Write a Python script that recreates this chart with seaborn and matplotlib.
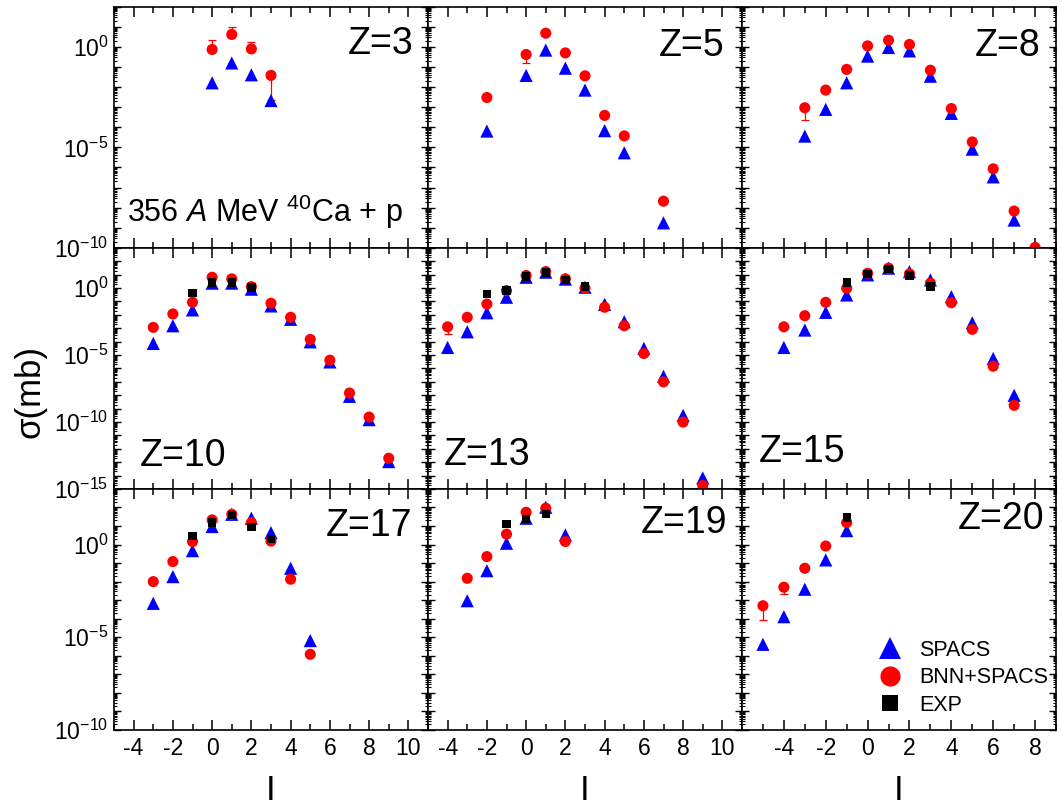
import numpy as np
import pandas as pd
import seaborn as sns
import matplotlib.pyplot as plt
from matplotlib.lines import Line2D
from matplotlib.ticker import FixedLocator, LogLocator, FuncFormatter, MultipleLocator, NullFormatter

# --- data: log10(sigma / mb), per fragment charge Z ---
z3_i = [0, 1, 2, 3]
z3_spacs = [-1.79, -0.80, -1.39, -2.67]
z3_bnn = [-0.13, 0.62, -0.10, -1.42]

z5_i = [-2, 0, 1, 2, 3, 4, 5, 7]
z5_spacs = [-4.19, -1.42, -0.16, -1.06, -2.15, -4.17, -5.27, -8.76]
z5_bnn = [-2.52, -0.38, 0.68, -0.30, -1.44, -3.41, -4.43, -7.68]

z8_i_spacs = [-3, -2, -1, 0, 1, 2, 3, 4, 5, 6, 7]
z8_spacs = [-4.44, -3.11, -1.79, -0.46, -0.03, -0.20, -1.46, -3.31, -5.09, -6.47, -8.62]
z8_i_bnn = [-3, -2, -1, 0, 1, 2, 3, 4, 5, 6, 7, 8]
z8_bnn = [-3.03, -2.15, -1.12, 0.05, 0.33, 0.12, -1.16, -3.07, -4.73, -6.07, -8.17, -9.98]

z10_i = [-3, -2, -1, 0, 1, 2, 3, 4, 5, 6, 7, 8, 9]
z10_spacs = [-4.14, -2.82, -1.64, 0.36, 0.36, -0.09, -1.34, -2.34, -4.02, -5.52, -8.09, -9.83, -12.96]
z10_bnn = [-2.94, -1.94, -1.07, 0.80, 0.68, 0.10, -1.14, -2.19, -3.84, -5.39, -7.84, -9.64, -12.71]
z10_i_exp = [-1, 0, 1, 2]
z10_exp = [-0.35, 0.40, 0.40, 0.03]

z13_i = [-4, -3, -2, -1, 0, 1, 2, 3, 4, 5, 6, 7, 8, 9]
z13_spacs = [-4.44, -3.27, -1.85, -0.69, 0.80, 1.18, 0.66, 0.06, -1.22, -2.52, -4.51, -6.59, -9.51, -14.18]
z13_bnn = [-2.90, -2.19, -1.20, -0.20, 0.93, 1.22, 0.68, -0.02, -1.44, -2.82, -4.89, -7.01, -10.01, -14.75]
z13_i_exp = [-2, -1, 0, 1, 2, 3]
z13_exp = [-0.45, -0.20, 0.85, 1.15, 0.60, 0.10]

z15_i = [-4, -3, -2, -1, 0, 1, 2, 3, 4, 5, 6, 7]
z15_spacs = [-4.44, -3.14, -1.82, -0.52, 0.98, 1.48, 1.22, 0.60, -0.65, -2.60, -5.26, -8.01]
z15_bnn = [-2.90, -2.07, -1.07, -0.02, 1.10, 1.48, 1.05, 0.36, -1.10, -3.09, -5.84, -8.76]
z15_i_exp = [-1, 0, 1, 2, 3]
z15_exp = [0.40, 1.05, 1.43, 0.93, 0.10]

z17_i = [-3, -2, -1, 0, 1, 2, 3, 4, 5]
z17_spacs = [-3.17, -1.73, -0.33, 0.97, 1.63, 1.42, 0.64, -1.28, -5.18]
z17_bnn = [-2.00, -0.92, 0.16, 1.33, 1.63, 1.18, 0.19, -1.87, -5.92]
z17_i_exp = [-1, 0, 1, 2, 3]
z17_exp = [0.46, 1.18, 1.60, 0.93, 0.29]

z19_i = [-3, -2, -1, 0, 1, 2]
z19_spacs = [-3.03, -1.41, 0.07, 1.42, 2.01, 0.52]
z19_bnn = [-1.82, -0.65, 0.56, 1.74, 1.96, 0.16]
z19_i_exp = [-1, 0, 1]
z19_exp = [1.09, 1.36, 1.63]

z20_i = [-5, -4, -3, -2, -1]
z20_spacs = [-5.38, -3.89, -2.41, -0.83, 0.75]
z20_bnn = [-3.30, -2.30, -1.28, -0.08, 1.18]
z20_i_exp = [-1]
z20_exp = [1.45]

# visible BNN+SPACS error bars (log10 of lower / upper ends)
err_z = [3, 3, 3, 3, 5, 8, 13, 20, 20]
err_i = [0, 1, 2, 3, 0, -3, -4, -5, -4]
err_lo = [-0.13, 0.62, -0.10, -2.65, -0.78, -3.65, -3.44, -4.07, -2.66]
err_hi = [0.33, 0.97, 0.22, -1.42, -0.38, -3.03, -2.90, -3.30, -2.30]

# --- build long table ---
rows = []
def add(z, model, xs, ys):
    for x, y in zip(xs, ys):
        rows.append({'Z': z, 'I': x, 'model': model, 'sigma': 10.0 ** y})

add(3, 'SPACS', z3_i, z3_spacs); add(3, 'BNN+SPACS', z3_i, z3_bnn)
add(5, 'SPACS', z5_i, z5_spacs); add(5, 'BNN+SPACS', z5_i, z5_bnn)
add(8, 'SPACS', z8_i_spacs, z8_spacs); add(8, 'BNN+SPACS', z8_i_bnn, z8_bnn)
add(10, 'SPACS', z10_i, z10_spacs); add(10, 'BNN+SPACS', z10_i, z10_bnn); add(10, 'EXP', z10_i_exp, z10_exp)
add(13, 'SPACS', z13_i, z13_spacs); add(13, 'BNN+SPACS', z13_i, z13_bnn); add(13, 'EXP', z13_i_exp, z13_exp)
add(15, 'SPACS', z15_i, z15_spacs); add(15, 'BNN+SPACS', z15_i, z15_bnn); add(15, 'EXP', z15_i_exp, z15_exp)
add(17, 'SPACS', z17_i, z17_spacs); add(17, 'BNN+SPACS', z17_i, z17_bnn); add(17, 'EXP', z17_i_exp, z17_exp)
add(19, 'SPACS', z19_i, z19_spacs); add(19, 'BNN+SPACS', z19_i, z19_bnn); add(19, 'EXP', z19_i_exp, z19_exp)
add(20, 'SPACS', z20_i, z20_spacs); add(20, 'BNN+SPACS', z20_i, z20_bnn); add(20, 'EXP', z20_i_exp, z20_exp)
df = pd.DataFrame(rows)

err_df = pd.DataFrame({'Z': err_z, 'I': err_i,
                       'lo': np.power(10.0, err_lo), 'hi': np.power(10.0, err_hi)})

# --- style ---
sns.set_theme(style='ticks')
plt.rcParams.update({
    'font.family': ['Liberation Sans', 'DejaVu Sans'],
    'mathtext.fontset': 'custom',
    'mathtext.rm': 'Liberation Sans',
    'mathtext.it': 'Liberation Sans:italic',
    'mathtext.default': 'regular',
    'axes.unicode_minus': False,
    'axes.linewidth': 1.2,
    'text.color': 'black',
    'axes.labelcolor': 'black',
    'axes.edgecolor': 'black',
    'xtick.color': 'black',
    'ytick.color': 'black',
    'figure.facecolor': 'white',
    'axes.facecolor': 'white',
})

styles = {  # model -> marker, colour, size (pt^2)
    'SPACS': ('^', '#0000FF', 90),
    'BNN+SPACS': ('o', '#FF0000', 64),
    'EXP': ('s', '#000000', 36),
}

z_order = [3, 5, 8, 10, 13, 15, 17, 19, 20]
row_decades = [(-10, 2), (-15, 3), (-10, 3)]   # log10 y-limits per row
col_xlim = [(-5, 11), (-5, 11), (-6, 9)]
# Z label position (axes fraction) and alignment
zlab = {
    3: (0.955, 0.92, 'right', 'top'), 5: (0.945, 0.91, 'right', 'top'), 8: (0.95, 0.91, 'right', 'top'),
    10: (0.083, 0.095, 'left', 'baseline'), 13: (0.049, 0.10, 'left', 'baseline'),
    15: (0.052, 0.11, 'left', 'baseline'),
    17: (0.95, 0.92, 'right', 'top'), 19: (0.953, 0.935, 'right', 'top'), 20: (0.962, 0.95, 'right', 'top'),
}

def decade_label(v, pos):
    e = int(round(np.log10(v)))
    return f'$10^{{{e}}}$' if e % 5 == 0 else ''

fig, axes = plt.subplots(3, 3, figsize=(10.62, 8.08), dpi=100)
fig.subplots_adjust(left=114 / 1062, right=1056 / 1062, top=1 - 6.7 / 808, bottom=1 - 730 / 808,
                    wspace=0, hspace=0)

for k, z in enumerate(z_order):
    r, c = divmod(k, 3)
    ax = axes[r, c]
    sub = df[df['Z'] == z]

    e = err_df[err_df['Z'] == z]
    if len(e):
        centre = sub[sub['model'] == 'BNN+SPACS'].set_index('I').loc[e['I'], 'sigma'].values
        ax.errorbar(e['I'], centre, yerr=[np.clip(centre - e['lo'].values, 0, None),
                                          np.clip(e['hi'].values - centre, 0, None)],
                    fmt='none', ecolor='#FF0000', elinewidth=0.9, capsize=3, capthick=0.9, zorder=2)

    for model in ['SPACS', 'BNN+SPACS', 'EXP']:
        d = sub[sub['model'] == model]
        if d.empty:
            continue
        m, col, s = styles[model]
        sns.scatterplot(data=d, x='I', y='sigma', marker=m, color=col, s=s,
                        linewidth=0, edgecolor='none', ax=ax, legend=False, zorder=3, clip_on=True)

    lo, hi = row_decades[r]
    ax.set_yscale('log')
    ax.set_ylim(10.0 ** lo, 10.0 ** hi)
    ax.set_xlim(*col_xlim[c])

    # only ticks inside the visible range, so no hidden labels linger off-axes
    ax.yaxis.set_major_locator(FixedLocator(10.0 ** np.arange(lo, hi + 1)))
    minors = [m * 10.0 ** d for d in range(lo, hi) for m in range(2, 10)]
    ax.yaxis.set_minor_locator(FixedLocator(minors))
    ax.yaxis.set_minor_formatter(NullFormatter())
    if c == 0:
        ax.yaxis.set_major_formatter(FuncFormatter(decade_label))
    else:
        ax.yaxis.set_major_formatter(NullFormatter())

    if c == 2:
        ax.xaxis.set_major_locator(FixedLocator(np.arange(-4, 9, 2)))
        ax.xaxis.set_minor_locator(FixedLocator(np.arange(-5, 10, 2)))
    else:
        ax.xaxis.set_major_locator(FixedLocator(np.arange(-4, 11, 2)))
        ax.xaxis.set_minor_locator(FixedLocator(np.arange(-5, 12, 2)))
    if r < 2:
        ax.set_xticklabels([])
        ax.set_xlabel('')
    else:
        ax.set_xlabel('I', fontsize=25, labelpad=10)
    ax.set_ylabel('')

    ax.tick_params(which='both', direction='in', top=True, right=True, colors='black', labelsize=16.5)
    ax.tick_params(axis='x', which='major', length=7, width=1.1, pad=5)
    ax.tick_params(axis='x', which='minor', length=4, width=1.1)
    ax.tick_params(axis='y', which='major', length=5, width=1.0, pad=4)
    ax.tick_params(axis='y', which='minor', length=2.5, width=0.8)

    zx, zy, ha, va = zlab[z]
    ax.text(zx, zy, f'Z={z}', transform=ax.transAxes, ha=ha, va=va, fontsize=27)

axes[0, 0].text(0.041, 0.107, '356 $\\mathit{A}$ MeV $^{40}$Ca + p', transform=axes[0, 0].transAxes,
                ha='left', va='baseline', fontsize=22)

fig.text(30 / 1062, 1 - 392 / 808, 'σ(mb)', rotation=90, ha='center', va='center', fontsize=25)

handles = [Line2D([], [], linestyle='none', marker='^', color='#0000FF', markersize=16, markeredgewidth=0),
           Line2D([], [], linestyle='none', marker='o', color='#FF0000', markersize=14.5, markeredgewidth=0),
           Line2D([], [], linestyle='none', marker='s', color='#000000', markersize=12, markeredgewidth=0)]
axes[2, 2].legend(handles, ['SPACS', 'BNN+SPACS', 'EXP'], loc='lower right', bbox_to_anchor=(0.975, 0.06),
                  frameon=False, fontsize=15.5, borderaxespad=0, borderpad=0, handlelength=1.2,
                  handletextpad=0.75, labelspacing=0.3)

fig.savefig('out.png', dpi=100)
